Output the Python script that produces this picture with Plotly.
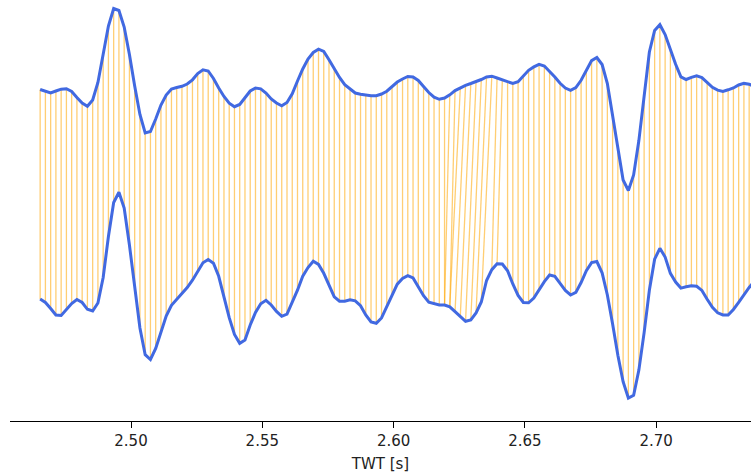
import numpy as np
import plotly.graph_objects as go

# Two seismic traces (2 ms sampling) and the sample-to-sample tie between them
T0 = 2.4654
DT = 0.002

upper_trace = [
    -0.015, -0.035, -0.05, -0.03, -0.012, -0.007, -0.035, -0.095, -0.15, -0.182,
    -0.12, 0.055, 0.325, 0.62, 0.795, 0.775, 0.61, 0.335, 0.02, -0.265,
    -0.45, -0.435, -0.31, -0.17, -0.07, -0.01, 0.005, 0.017, 0.04, 0.082,
    0.145, 0.182, 0.17, 0.095, 0.0, -0.085, -0.152, -0.187, -0.165, -0.095,
    -0.03, 0.0, -0.008, -0.05, -0.11, -0.15, -0.178, -0.145, -0.058, 0.07,
    0.19, 0.29, 0.355, 0.388, 0.365, 0.282, 0.19, 0.105, 0.034, -0.01,
    -0.05, -0.063, -0.073, -0.077, -0.077, -0.06, -0.032, 0.01, 0.06, 0.09,
    0.115, 0.11, 0.075, 0.015, -0.045, -0.092, -0.113, -0.1, -0.068, -0.026,
    0.003, 0.027, 0.045, 0.064, 0.085, 0.11, 0.118, 0.1, 0.082, 0.061,
    0.045, 0.063, 0.122, 0.177, 0.211, 0.237, 0.22, 0.167, 0.11, 0.047,
    0.0, -0.023, 0.004, 0.077, 0.173, 0.274, 0.305, 0.235, 0.044, -0.27,
    -0.606, -0.92, -1.025, -0.87, -0.526, -0.055, 0.36, 0.575, 0.633, 0.535,
    0.374, 0.237, 0.112, 0.085, 0.106, 0.121, 0.104, 0.059, 0.007, -0.021,
    -0.034, -0.018, 0.0, 0.03, 0.046, 0.038, 0.015,
]

lower_trace = [
    0.01, -0.025, -0.085, -0.15, -0.155, -0.1, -0.035, 0.005, -0.025, -0.093,
    -0.11, -0.03, 0.225, 0.635, 0.975, 1.077, 0.92, 0.55, 0.12, -0.28,
    -0.547, -0.595, -0.485, -0.318, -0.16, -0.053, 0.006, 0.062, 0.124, 0.198,
    0.287, 0.372, 0.405, 0.368, 0.237, 0.03, -0.177, -0.344, -0.433, -0.4,
    -0.25, -0.125, -0.037, -0.003, -0.05, -0.114, -0.163, -0.142, -0.03, 0.098,
    0.238, 0.325, 0.388, 0.356, 0.267, 0.15, 0.032, -0.012, -0.012, 0.003,
    -0.008, -0.057, -0.15, -0.22, -0.233, -0.18, -0.07, 0.046, 0.158, 0.215,
    0.244, 0.22, 0.124, 0.043, -0.021, -0.038, -0.05, -0.05, -0.068, -0.117,
    -0.164, -0.213, -0.2, -0.13, -0.02, 0.195, 0.303, 0.363, 0.36, 0.292,
    0.16, 0.046, -0.025, -0.028, 0.02, 0.104, 0.184, 0.25, 0.237, 0.166,
    0.095, 0.05, 0.076, 0.175, 0.293, 0.374, 0.385, 0.272, 0.05, -0.239,
    -0.553, -0.817, -0.98, -0.952, -0.701, -0.326, 0.098, 0.408, 0.517, 0.43,
    0.266, 0.18, 0.119, 0.132, 0.143, 0.137, 0.096, 0.008, -0.074, -0.128,
    -0.15, -0.15, -0.095, -0.023, 0.056, 0.125, 0.185,
]

# Lag (in samples) of the lower-trace sample tied to each upper-trace sample
tie_lag = [0] * 78 + [1, 1, 2, 2, 2, 2, 2, 2, 2, 1, 1] + [0] * 48

tick_values = [2.50, 2.55, 2.60, 2.65, 2.70]
tick_labels = ["2.50", "2.55", "2.60", "2.65", "2.70"]

TRACE_OFFSET = 2.12

n = len(upper_trace)
twt = np.round(T0 + DT * np.arange(n), 4)
upper = np.array(upper_trace) + TRACE_OFFSET
lower = np.array(lower_trace)

# Tie lines: upper sample i -> lower sample i - lag
tie_x, tie_y = [], []
for i in range(n):
    j = min(max(i - tie_lag[i], 0), n - 1)
    tie_x += [twt[i], twt[j], None]
    tie_y += [upper[i], lower[j], None]

fig = go.Figure()
fig.add_trace(go.Scatter(
    x=tie_x, y=tie_y, mode="lines",
    line=dict(color="rgba(255,165,0,0.55)", width=1.3),
    hoverinfo="skip", showlegend=False,
))
fig.add_trace(go.Scatter(
    x=twt, y=upper, mode="lines",
    line=dict(color="#4169e1", width=3),
    showlegend=False,
))
fig.add_trace(go.Scatter(
    x=twt, y=lower, mode="lines",
    line=dict(color="#4169e1", width=3),
    showlegend=False,
))

fig.update_layout(
    width=751, height=474,
    margin=dict(l=10, r=0, t=0, b=53),
    paper_bgcolor="white", plot_bgcolor="white",
    font=dict(family="DejaVu Sans", size=15, color="#000000"),
    xaxis=dict(
        range=[2.45392, 2.7361],
        showline=True, linecolor="#000000", linewidth=1,
        ticks="outside", ticklen=6, tickwidth=1, tickcolor="#000000",
        tickvals=tick_values, ticktext=tick_labels,
        tickfont=dict(size=15, color="#222222"),
        showgrid=False, zeroline=False,
        title=dict(text="TWT [s]", font=dict(size=15, color="#222222"), standoff=9),
    ),
    yaxis=dict(
        range=[-1.21, 3.0], visible=False,
        showgrid=False, zeroline=False,
    ),
)

fig.write_html("out.html")
